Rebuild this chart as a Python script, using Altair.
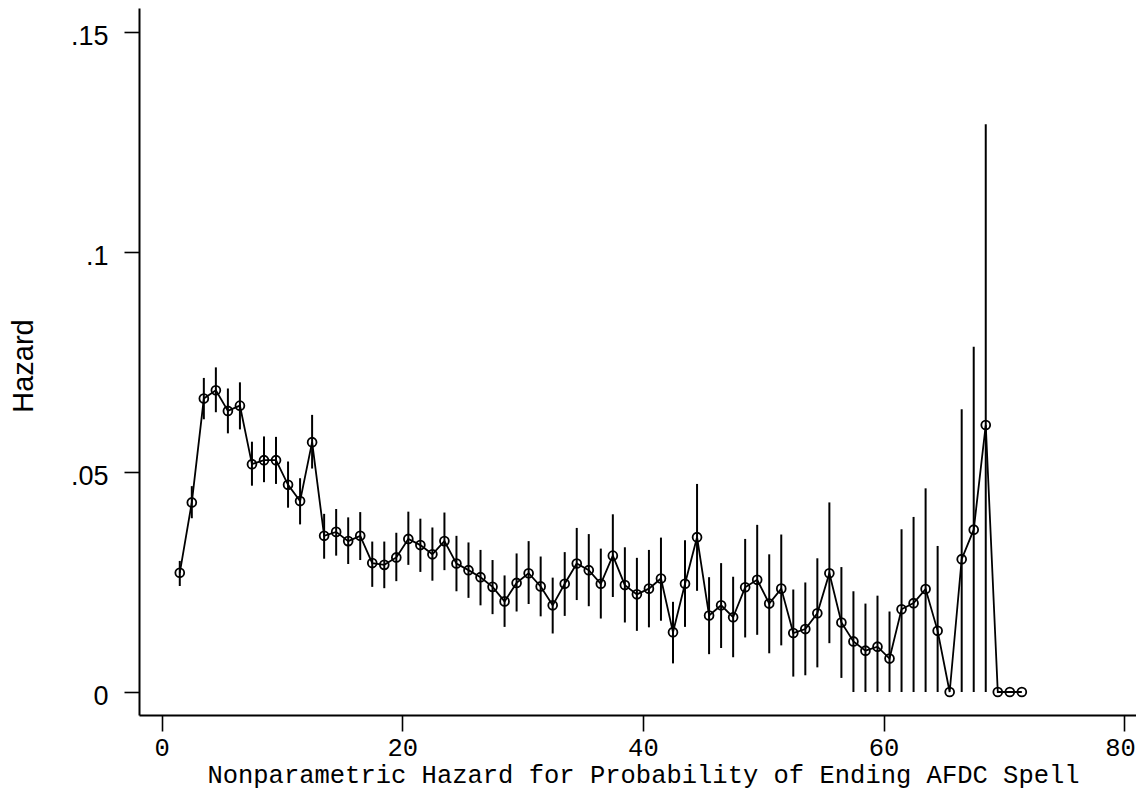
import altair as alt
import pandas as pd

months = [1.5, 2.5, 3.5, 4.5, 5.5, 6.5, 7.5, 8.5, 9.5, 10.5,
          11.5, 12.5, 13.5, 14.5, 15.5, 16.5, 17.5, 18.5, 19.5, 20.5,
          21.5, 22.5, 23.5, 24.5, 25.5, 26.5, 27.5, 28.5, 29.5, 30.5,
          31.5, 32.5, 33.5, 34.5, 35.5, 36.5, 37.5, 38.5, 39.5, 40.5,
          41.5, 42.5, 43.5, 44.5, 45.5, 46.5, 47.5, 48.5, 49.5, 50.5,
          51.5, 52.5, 53.5, 54.5, 55.5, 56.5, 57.5, 58.5, 59.5, 60.5,
          61.5, 62.5, 63.5, 64.5, 65.5, 66.5, 67.5, 68.5, 69.5, 70.5,
          71.5]

hazard = [0.0271, 0.0431, 0.0667, 0.0686, 0.0639, 0.0651, 0.0518, 0.0527, 0.0527, 0.0471,
          0.0434, 0.0568, 0.0355, 0.0364, 0.0343, 0.0355, 0.0293, 0.0289, 0.0306, 0.0348,
          0.0334, 0.0313, 0.0343, 0.0292, 0.0277, 0.0261, 0.0239, 0.0206, 0.0248, 0.0270,
          0.0240, 0.0197, 0.0246, 0.0292, 0.0277, 0.0246, 0.0310, 0.0243, 0.0222, 0.0235,
          0.0258, 0.0136, 0.0246, 0.0352, 0.0174, 0.0197, 0.0170, 0.0238, 0.0255, 0.0201,
          0.0235, 0.0134, 0.0143, 0.0179, 0.0270, 0.0158, 0.0115, 0.0094, 0.0103, 0.0076,
          0.0188, 0.0202, 0.0234, 0.0139, 0.0, 0.0302, 0.0369, 0.0607, 0.0, 0.0,
          0.0]

upper = [0.0298, 0.0468, 0.0714, 0.0738, 0.0690, 0.0704, 0.0569, 0.0581, 0.0580, 0.0524,
         0.0486, 0.0630, 0.0405, 0.0416, 0.0397, 0.0409, 0.0342, 0.0342, 0.0362, 0.0410,
         0.0394, 0.0374, 0.0408, 0.0355, 0.0340, 0.0323, 0.0300, 0.0265, 0.0315, 0.0343,
         0.0308, 0.0260, 0.0318, 0.0373, 0.0359, 0.0326, 0.0404, 0.0329, 0.0305, 0.0323,
         0.0351, 0.0205, 0.0345, 0.0473, 0.0261, 0.0293, 0.0262, 0.0348, 0.0380, 0.0313,
         0.0358, 0.0233, 0.0249, 0.0304, 0.0431, 0.0284, 0.0229, 0.0201, 0.0219, 0.0183,
         0.0370, 0.0398, 0.0463, 0.0332, 0.0, 0.0643, 0.0785, 0.1291, 0.0, 0.0,
         0.0]

lower = [0.0241, 0.0395, 0.0620, 0.0636, 0.0588, 0.0597, 0.0469, 0.0477, 0.0473, 0.0419,
         0.0381, 0.0508, 0.0303, 0.0310, 0.0291, 0.0300, 0.0239, 0.0236, 0.0252, 0.0289,
         0.0273, 0.0253, 0.0277, 0.0229, 0.0214, 0.0197, 0.0177, 0.0148, 0.0183, 0.0200,
         0.0172, 0.0133, 0.0173, 0.0209, 0.0195, 0.0167, 0.0216, 0.0158, 0.0139, 0.0147,
         0.0162, 0.0065, 0.0148, 0.0230, 0.0086, 0.0100, 0.0079, 0.0124, 0.0130, 0.0088,
         0.0106, 0.0035, 0.0038, 0.0056, 0.0111, 0.0032, 0.0, 0.0, 0.0, 0.0,
         0.0, 0.0, 0.0, 0.0, 0.0, 0.0, 0.0, 0.0, 0.0, 0.0,
         0.0]

x_ticks = [0, 20, 40, 60, 80]
y_ticks = [0, 0.05, 0.1, 0.15]

df = pd.DataFrame({"month": months, "hazard": hazard, "upper": upper, "lower": lower})
df_ci = df[df["upper"] > df["lower"]]

MONO = "Liberation Mono"
SANS = "Liberation Sans"

x_scale = alt.Scale(domain=[-1.89, 80.99], nice=False, zero=False)
y_scale = alt.Scale(domain=[-0.00523, 0.1555], nice=False, zero=False)

x_axis = alt.Axis(
    values=x_ticks, grid=False, title="Nonparametric Hazard for Probability of Ending AFDC Spell",
    domainColor="black", domainWidth=2, tickColor="black", tickWidth=1.6, tickSize=16,
    labelFont=MONO, labelFontSize=25.5, labelColor="black", labelBaseline="alphabetic",
    labelPadding=24, labelFlush=False, labelOverlap=False,
    labelOffset={"condition": {"test": "datum.value == 80", "value": -4}, "value": 0},
    titleFont=MONO, titleFontSize=25.5, titleFontWeight="normal", titleColor="black",
    titleX=504, titleY=67.7, titleAlign="center", titleBaseline="alphabetic",
)
y_axis = alt.Axis(
    values=y_ticks, grid=False, title="Hazard",
    labelExpr="datum.value == 0 ? '0' : substring(format(datum.value, '.2~f'), 1)",
    domainColor="black", domainWidth=2, tickColor="black", tickWidth=1.6, tickSize=15,
    labelFont=SANS, labelFontSize=27, labelColor="black", labelBaseline="alphabetic",
    labelOffset=12.7, labelPadding=16, labelFlush=False, labelOverlap=False,
    titleFont=SANS, titleFontSize=29, titleFontWeight="normal", titleColor="black",
    titleAngle=270, titleX=-106.8, titleY=357.5, titleAlign="center", titleBaseline="alphabetic",
)

base = alt.Chart(df)

rules = alt.Chart(df_ci).mark_rule(color="black", strokeWidth=2).encode(
    x=alt.X("month:Q", scale=x_scale, axis=x_axis),
    y=alt.Y("lower:Q", scale=y_scale, axis=y_axis),
    y2="upper:Q",
)

line = base.mark_line(color="black", strokeWidth=1.8).encode(
    x=alt.X("month:Q", scale=x_scale, axis=x_axis),
    y=alt.Y("hazard:Q", scale=y_scale, axis=y_axis),
)

points = base.mark_point(shape="circle", filled=False, size=78, color="black",
                         strokeWidth=1.8, opacity=1).encode(
    x=alt.X("month:Q", scale=x_scale, axis=x_axis),
    y=alt.Y("hazard:Q", scale=y_scale, axis=y_axis),
)

chart = alt.layer(rules, line, points).properties(
    width=997, height=707,
    autosize=alt.AutoSizeParams(type="none"),
    padding={"left": 131, "top": 0, "right": 0, "bottom": 76},
    background="white",
).configure_view(stroke=None)

chart.save("out.html", embed_options={"renderer": "svg", "actions": False})
